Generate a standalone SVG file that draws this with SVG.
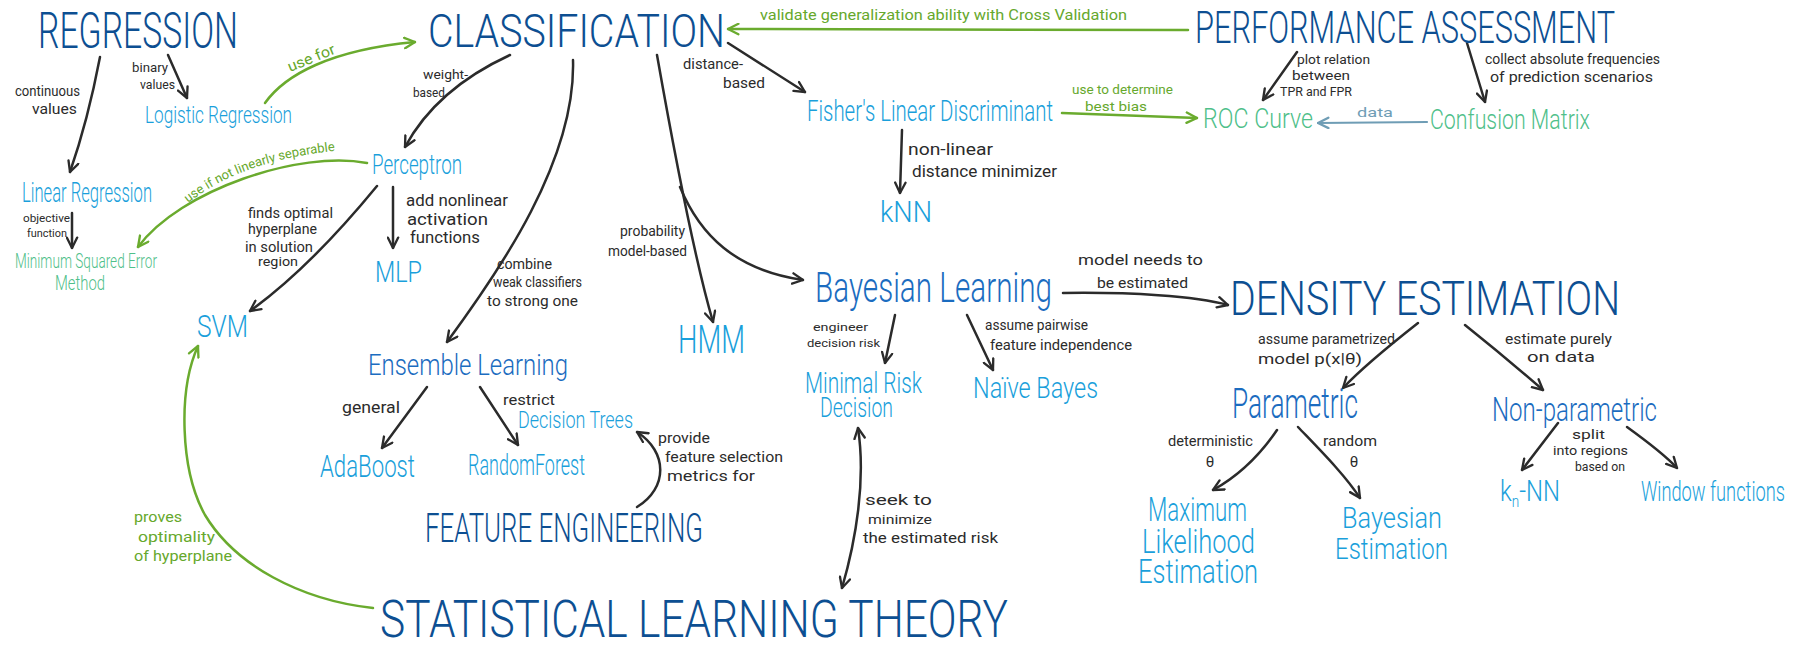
<svg xmlns="http://www.w3.org/2000/svg" width="1798" height="660" viewBox="0 0 1798 660">
<style>
text{font-family:Roboto,"Liberation Sans",Arial,sans-serif;font-weight:300;}
.k,.gt,.bt{font-weight:400;}
.h{fill:#0d4f92;}
.m{fill:#1b6cc0;}
.l{fill:#1a9fdb;}
.g{fill:#4fc08a;}
.k{fill:#2b2b2b;}
.gt{fill:#66a82c;}
.bt{fill:#6f9db5;}
.ck{fill:none;stroke:#2b2b2b;stroke-width:2.5;stroke-linecap:round;marker-end:url(#ak);}
.cg{fill:none;stroke:#6aab2e;stroke-width:2.5;stroke-linecap:round;marker-end:url(#ag);}
.cb{fill:none;stroke:#6f9db5;stroke-width:2.2;stroke-linecap:round;marker-end:url(#ab);}
</style>
<defs>
<marker id="ak" viewBox="0 0 10 10" refX="9" refY="5" markerWidth="13" markerHeight="13" markerUnits="userSpaceOnUse" orient="auto-start-reverse"><path d="M1,1 L9,5 L1,9" fill="none" stroke="#2b2b2b" stroke-width="1.8" stroke-linecap="round" stroke-linejoin="round"/></marker>
<marker id="ag" viewBox="0 0 10 10" refX="9" refY="5" markerWidth="13" markerHeight="13" markerUnits="userSpaceOnUse" orient="auto"><path d="M1,1 L9,5 L1,9" fill="none" stroke="#6aab2e" stroke-width="1.8" stroke-linecap="round" stroke-linejoin="round"/></marker>
<marker id="ab" viewBox="0 0 10 10" refX="9" refY="5" markerWidth="13" markerHeight="13" markerUnits="userSpaceOnUse" orient="auto"><path d="M1,1 L9,5 L1,9" fill="none" stroke="#6f9db5" stroke-width="1.8" stroke-linecap="round" stroke-linejoin="round"/></marker>
<path id="tp1" d="M188,203 Q245,158 345,150"/>
</defs>

<g id="connectors">
<path class="ck" d="M100,57 Q88,120 70,172"/>
<path class="ck" d="M168,55 L187,98"/>
<path class="ck" d="M72,213 L72,248"/>
<path class="ck" d="M510,55 C460,78 425,110 405,147"/>
<path class="ck" d="M377,186 C345,225 300,275 250,311"/>
<path class="ck" d="M393,187 L393,248"/>
<path class="ck" d="M573,60 C576,160 500,270 447,342"/>
<path class="ck" d="M657,55 C672,140 692,250 713,322"/>
<path class="ck" d="M680,187 C700,235 735,270 803,280"/>
<path class="ck" d="M728,43 L805,92"/>
<path class="ck" d="M902,130 L900,193"/>
<path class="ck" d="M1297,52 L1263,100"/>
<path class="ck" d="M1467,43 L1485,102"/>
<path class="ck" d="M895,315 L885,363"/>
<path class="ck" d="M967,315 L993,370"/>
<path class="ck" d="M1063,293 C1130,292 1195,296 1228,305"/>
<path class="ck" style="marker-start:url(#ak)" d="M858,428 C866,480 856,540 842,588"/>
<path class="ck" d="M427,387 L382,448"/>
<path class="ck" d="M480,387 L518,445"/>
<path class="ck" d="M637,507 C668,488 668,452 637,432"/>
<path class="ck" d="M1418,323 C1390,345 1360,370 1343,388"/>
<path class="ck" d="M1465,325 C1490,345 1520,370 1543,390"/>
<path class="ck" d="M1277,430 C1260,455 1240,475 1213,490"/>
<path class="ck" d="M1298,427 C1320,450 1345,475 1360,498"/>
<path class="ck" d="M1558,423 L1522,470"/>
<path class="ck" d="M1627,427 C1645,440 1665,455 1677,468"/>
<path class="cg" d="M265,103 C285,75 330,50 415,42"/>
<path class="cg" d="M367,163 C300,150 180,190 138,247"/>
<path class="cg" d="M1188,30 L728,29"/>
<path class="cg" d="M1062,113 L1197,118"/>
<path class="cg" d="M373,608 C300,600 235,565 205,515 C180,470 178,390 198,346"/>
<path class="cb" d="M1427,122 L1318,123"/>
</g>

<g id="labels">
<text class="k" x="15" y="96" font-size="14" textLength="65" lengthAdjust="spacingAndGlyphs">continuous</text>
<text class="k" x="32" y="114" font-size="14" textLength="45" lengthAdjust="spacingAndGlyphs">values</text>
<text class="k" x="132" y="72" font-size="12" textLength="36" lengthAdjust="spacingAndGlyphs">binary</text>
<text class="k" x="140" y="89" font-size="12" textLength="35" lengthAdjust="spacingAndGlyphs">values</text>
<text class="k" x="23" y="222" font-size="11" textLength="47" lengthAdjust="spacingAndGlyphs">objective</text>
<text class="k" x="27" y="237" font-size="11" textLength="40" lengthAdjust="spacingAndGlyphs">function</text>
<text class="gt" x="0" y="0" font-size="15" transform="translate(290,72) rotate(-22)" textLength="50" lengthAdjust="spacingAndGlyphs">use for</text>
<text class="gt" font-size="13"><textPath href="#tp1">use if not linearly separable</textPath></text>
<text class="k" x="423" y="79" font-size="13" textLength="45" lengthAdjust="spacingAndGlyphs">weight-</text>
<text class="k" x="413" y="97" font-size="13" textLength="32" lengthAdjust="spacingAndGlyphs">based</text>
<text class="k" x="248" y="218" font-size="15" textLength="85" lengthAdjust="spacingAndGlyphs">finds optimal</text>
<text class="k" x="248" y="234" font-size="14" textLength="69" lengthAdjust="spacingAndGlyphs">hyperplane</text>
<text class="k" x="245" y="252" font-size="14" textLength="68" lengthAdjust="spacingAndGlyphs">in solution</text>
<text class="k" x="258" y="266" font-size="13" textLength="40" lengthAdjust="spacingAndGlyphs">region</text>
<text class="k" x="406" y="206" font-size="17" textLength="102" lengthAdjust="spacingAndGlyphs">add nonlinear</text>
<text class="k" x="407" y="225" font-size="17" textLength="81" lengthAdjust="spacingAndGlyphs">activation</text>
<text class="k" x="410" y="243" font-size="17" textLength="70" lengthAdjust="spacingAndGlyphs">functions</text>
<text class="k" x="497" y="269" font-size="14" textLength="55" lengthAdjust="spacingAndGlyphs">combine</text>
<text class="k" x="493" y="287" font-size="14" textLength="89" lengthAdjust="spacingAndGlyphs">weak classifiers</text>
<text class="k" x="487" y="306" font-size="14" textLength="91" lengthAdjust="spacingAndGlyphs">to strong one</text>
<text class="k" x="620" y="236" font-size="14" textLength="65" lengthAdjust="spacingAndGlyphs">probability</text>
<text class="k" x="608" y="256" font-size="14" textLength="79" lengthAdjust="spacingAndGlyphs">model-based</text>
<text class="k" x="683" y="69" font-size="14" textLength="60" lengthAdjust="spacingAndGlyphs">distance-</text>
<text class="k" x="723" y="88" font-size="14" textLength="42" lengthAdjust="spacingAndGlyphs">based</text>
<text class="gt" x="760" y="20" font-size="15" textLength="367" lengthAdjust="spacingAndGlyphs">validate generalization ability with Cross Validation</text>
<text class="k" x="908" y="155" font-size="17" textLength="85" lengthAdjust="spacingAndGlyphs">non-linear</text>
<text class="k" x="912" y="177" font-size="17" textLength="145" lengthAdjust="spacingAndGlyphs">distance minimizer</text>
<text class="gt" x="1072" y="94" font-size="13" textLength="101" lengthAdjust="spacingAndGlyphs">use to determine</text>
<text class="gt" x="1085" y="111" font-size="13" textLength="62" lengthAdjust="spacingAndGlyphs">best bias</text>
<text class="bt" x="1357" y="117" font-size="13" textLength="36" lengthAdjust="spacingAndGlyphs">data</text>
<text class="k" x="1297" y="64" font-size="12" textLength="73" lengthAdjust="spacingAndGlyphs">plot relation</text>
<text class="k" x="1292" y="80" font-size="12" textLength="58" lengthAdjust="spacingAndGlyphs">between</text>
<text class="k" x="1280" y="96" font-size="12" textLength="72" lengthAdjust="spacingAndGlyphs">TPR and FPR</text>
<text class="k" x="1485" y="64" font-size="14" textLength="175" lengthAdjust="spacingAndGlyphs">collect absolute frequencies</text>
<text class="k" x="1490" y="82" font-size="14" textLength="163" lengthAdjust="spacingAndGlyphs">of prediction scenarios</text>
<text class="k" x="813" y="331" font-size="11" textLength="55" lengthAdjust="spacingAndGlyphs">engineer</text>
<text class="k" x="807" y="347" font-size="11" textLength="73" lengthAdjust="spacingAndGlyphs">decision risk</text>
<text class="k" x="1078" y="265" font-size="15" textLength="125" lengthAdjust="spacingAndGlyphs">model needs to</text>
<text class="k" x="1097" y="288" font-size="15" textLength="91" lengthAdjust="spacingAndGlyphs">be estimated</text>
<text class="k" x="985" y="330" font-size="14" textLength="103" lengthAdjust="spacingAndGlyphs">assume pairwise</text>
<text class="k" x="990" y="350" font-size="14" textLength="142" lengthAdjust="spacingAndGlyphs">feature independence</text>
<text class="k" x="865" y="505" font-size="15" textLength="67" lengthAdjust="spacingAndGlyphs">seek to</text>
<text class="k" x="868" y="524" font-size="13" textLength="64" lengthAdjust="spacingAndGlyphs">minimize</text>
<text class="k" x="863" y="543" font-size="15" textLength="135" lengthAdjust="spacingAndGlyphs">the estimated risk</text>
<text class="k" x="1258" y="344" font-size="14" textLength="137" lengthAdjust="spacingAndGlyphs">assume parametrized</text>
<text class="k" x="1258" y="364" font-size="14" textLength="104" lengthAdjust="spacingAndGlyphs">model p(x|θ)</text>
<text class="k" x="1505" y="344" font-size="14" textLength="107" lengthAdjust="spacingAndGlyphs">estimate purely</text>
<text class="k" x="1527" y="362" font-size="14" textLength="68" lengthAdjust="spacingAndGlyphs">on data</text>
<text class="k" x="1168" y="446" font-size="14" textLength="85" lengthAdjust="spacingAndGlyphs">deterministic</text>
<text class="k" x="1210" y="467" font-size="15" text-anchor="middle">θ</text>
<text class="k" x="1323" y="446" font-size="14" textLength="54" lengthAdjust="spacingAndGlyphs">random</text>
<text class="k" x="1354" y="467" font-size="15" text-anchor="middle">θ</text>
<text class="k" x="1572" y="439" font-size="12" textLength="33" lengthAdjust="spacingAndGlyphs">split</text>
<text class="k" x="1553" y="455" font-size="12" textLength="75" lengthAdjust="spacingAndGlyphs">into regions</text>
<text class="k" x="1575" y="471" font-size="12" textLength="50" lengthAdjust="spacingAndGlyphs">based on</text>
<text class="k" x="342" y="413" font-size="16" textLength="58" lengthAdjust="spacingAndGlyphs">general</text>
<text class="k" x="503" y="405" font-size="15" textLength="52" lengthAdjust="spacingAndGlyphs">restrict</text>
<text class="k" x="658" y="443" font-size="15" textLength="52" lengthAdjust="spacingAndGlyphs">provide</text>
<text class="k" x="665" y="462" font-size="15" textLength="118" lengthAdjust="spacingAndGlyphs">feature selection</text>
<text class="k" x="667" y="481" font-size="15" textLength="88" lengthAdjust="spacingAndGlyphs">metrics for</text>
<text class="gt" x="134" y="522" font-size="15" textLength="48" lengthAdjust="spacingAndGlyphs">proves</text>
<text class="gt" x="138" y="542" font-size="15" textLength="77" lengthAdjust="spacingAndGlyphs">optimality</text>
<text class="gt" x="134" y="561" font-size="15" textLength="98" lengthAdjust="spacingAndGlyphs">of hyperplane</text>
</g>

<g id="regression"><text class="h" x="38" y="48" font-size="50" textLength="200" lengthAdjust="spacingAndGlyphs">REGRESSION</text></g>
<g id="classification"><text class="h" x="428" y="47" font-size="47" textLength="297" lengthAdjust="spacingAndGlyphs">CLASSIFICATION</text></g>
<g id="performance-assessment"><text class="h" x="1195" y="43" font-size="45" textLength="420" lengthAdjust="spacingAndGlyphs">PERFORMANCE ASSESSMENT</text></g>
<g id="density-estimation"><text class="h" x="1230" y="315" font-size="48" textLength="390" lengthAdjust="spacingAndGlyphs">DENSITY ESTIMATION</text></g>
<g id="feature-engineering"><text class="h" x="425" y="542" font-size="40" textLength="278" lengthAdjust="spacingAndGlyphs">FEATURE ENGINEERING</text></g>
<g id="statistical-learning-theory"><text class="h" x="380" y="637" font-size="51" textLength="628" lengthAdjust="spacingAndGlyphs">STATISTICAL LEARNING THEORY</text></g>

<g id="logistic-regression"><text class="l" x="145" y="123" font-size="24" textLength="147" lengthAdjust="spacingAndGlyphs">Logistic Regression</text></g>
<g id="linear-regression"><text class="l" x="22" y="202" font-size="28" textLength="130" lengthAdjust="spacingAndGlyphs">Linear Regression</text></g>
<g id="mse"><text class="g" x="15" y="268" font-size="20" textLength="142" lengthAdjust="spacingAndGlyphs">Minimum Squared Error</text><text class="g" x="55" y="290" font-size="20" textLength="50" lengthAdjust="spacingAndGlyphs">Method</text></g>
<g id="perceptron"><text class="l" x="372" y="174" font-size="28" textLength="90" lengthAdjust="spacingAndGlyphs">Perceptron</text></g>
<g id="mlp"><text class="l" x="375" y="282" font-size="30" textLength="47" lengthAdjust="spacingAndGlyphs">MLP</text></g>
<g id="svm"><text class="l" x="197" y="337" font-size="32" textLength="51" lengthAdjust="spacingAndGlyphs">SVM</text></g>
<g id="fisher"><text class="l" x="807" y="121" font-size="30" textLength="246" lengthAdjust="spacingAndGlyphs">Fisher's Linear Discriminant</text></g>
<g id="knn"><text class="l" x="880" y="222" font-size="30" textLength="52" lengthAdjust="spacingAndGlyphs">kNN</text></g>
<g id="roc-curve"><text class="g" x="1203" y="128" font-size="28" textLength="110" lengthAdjust="spacingAndGlyphs">ROC Curve</text></g>
<g id="confusion-matrix"><text class="g" x="1430" y="129" font-size="27" textLength="160" lengthAdjust="spacingAndGlyphs">Confusion Matrix</text></g>
<g id="hmm"><text class="l" x="678" y="353" font-size="38" textLength="67" lengthAdjust="spacingAndGlyphs">HMM</text></g>
<g id="bayesian-learning"><text class="m" x="815" y="302" font-size="42" textLength="237" lengthAdjust="spacingAndGlyphs">Bayesian Learning</text></g>
<g id="ensemble-learning"><text class="m" x="368" y="375" font-size="30" textLength="200" lengthAdjust="spacingAndGlyphs">Ensemble Learning</text></g>
<g id="adaboost"><text class="l" x="320" y="477" font-size="32" textLength="95" lengthAdjust="spacingAndGlyphs">AdaBoost</text></g>
<g id="random-forest"><text class="l" x="468" y="475" font-size="30" textLength="117" lengthAdjust="spacingAndGlyphs">RandomForest</text></g>
<g id="decision-trees"><text class="l" x="518" y="428" font-size="24" textLength="115" lengthAdjust="spacingAndGlyphs">Decision Trees</text></g>
<g id="minimal-risk-decision"><text class="l" x="805" y="393" font-size="30" textLength="117" lengthAdjust="spacingAndGlyphs">Minimal Risk</text><text class="l" x="820" y="417" font-size="28" textLength="73" lengthAdjust="spacingAndGlyphs">Decision</text></g>
<g id="naive-bayes"><text class="l" x="973" y="398" font-size="30" textLength="125" lengthAdjust="spacingAndGlyphs">Naïve Bayes</text></g>
<g id="parametric"><text class="m" x="1232" y="418" font-size="42" textLength="126" lengthAdjust="spacingAndGlyphs">Parametric</text></g>
<g id="non-parametric"><text class="m" x="1492" y="421" font-size="34" textLength="165" lengthAdjust="spacingAndGlyphs">Non-parametric</text></g>
<g id="mle"><text class="l" x="1148" y="521" font-size="34" textLength="99" lengthAdjust="spacingAndGlyphs">Maximum</text><text class="l" x="1142" y="553" font-size="34" textLength="113" lengthAdjust="spacingAndGlyphs">Likelihood</text><text class="l" x="1138" y="583" font-size="34" textLength="120" lengthAdjust="spacingAndGlyphs">Estimation</text></g>
<g id="bayesian-estimation"><text class="l" x="1342" y="528" font-size="30" textLength="100" lengthAdjust="spacingAndGlyphs">Bayesian</text><text class="l" x="1335" y="559" font-size="30" textLength="113" lengthAdjust="spacingAndGlyphs">Estimation</text></g>
<g id="kn-nn"><text class="l" x="1500" y="501" font-size="30" textLength="60" lengthAdjust="spacingAndGlyphs">k<tspan font-size="17" dy="6">n</tspan><tspan dy="-6">-NN</tspan></text></g>
<g id="window-functions"><text class="l" x="1641" y="501" font-size="28" textLength="144" lengthAdjust="spacingAndGlyphs">Window functions</text></g>
</svg>
